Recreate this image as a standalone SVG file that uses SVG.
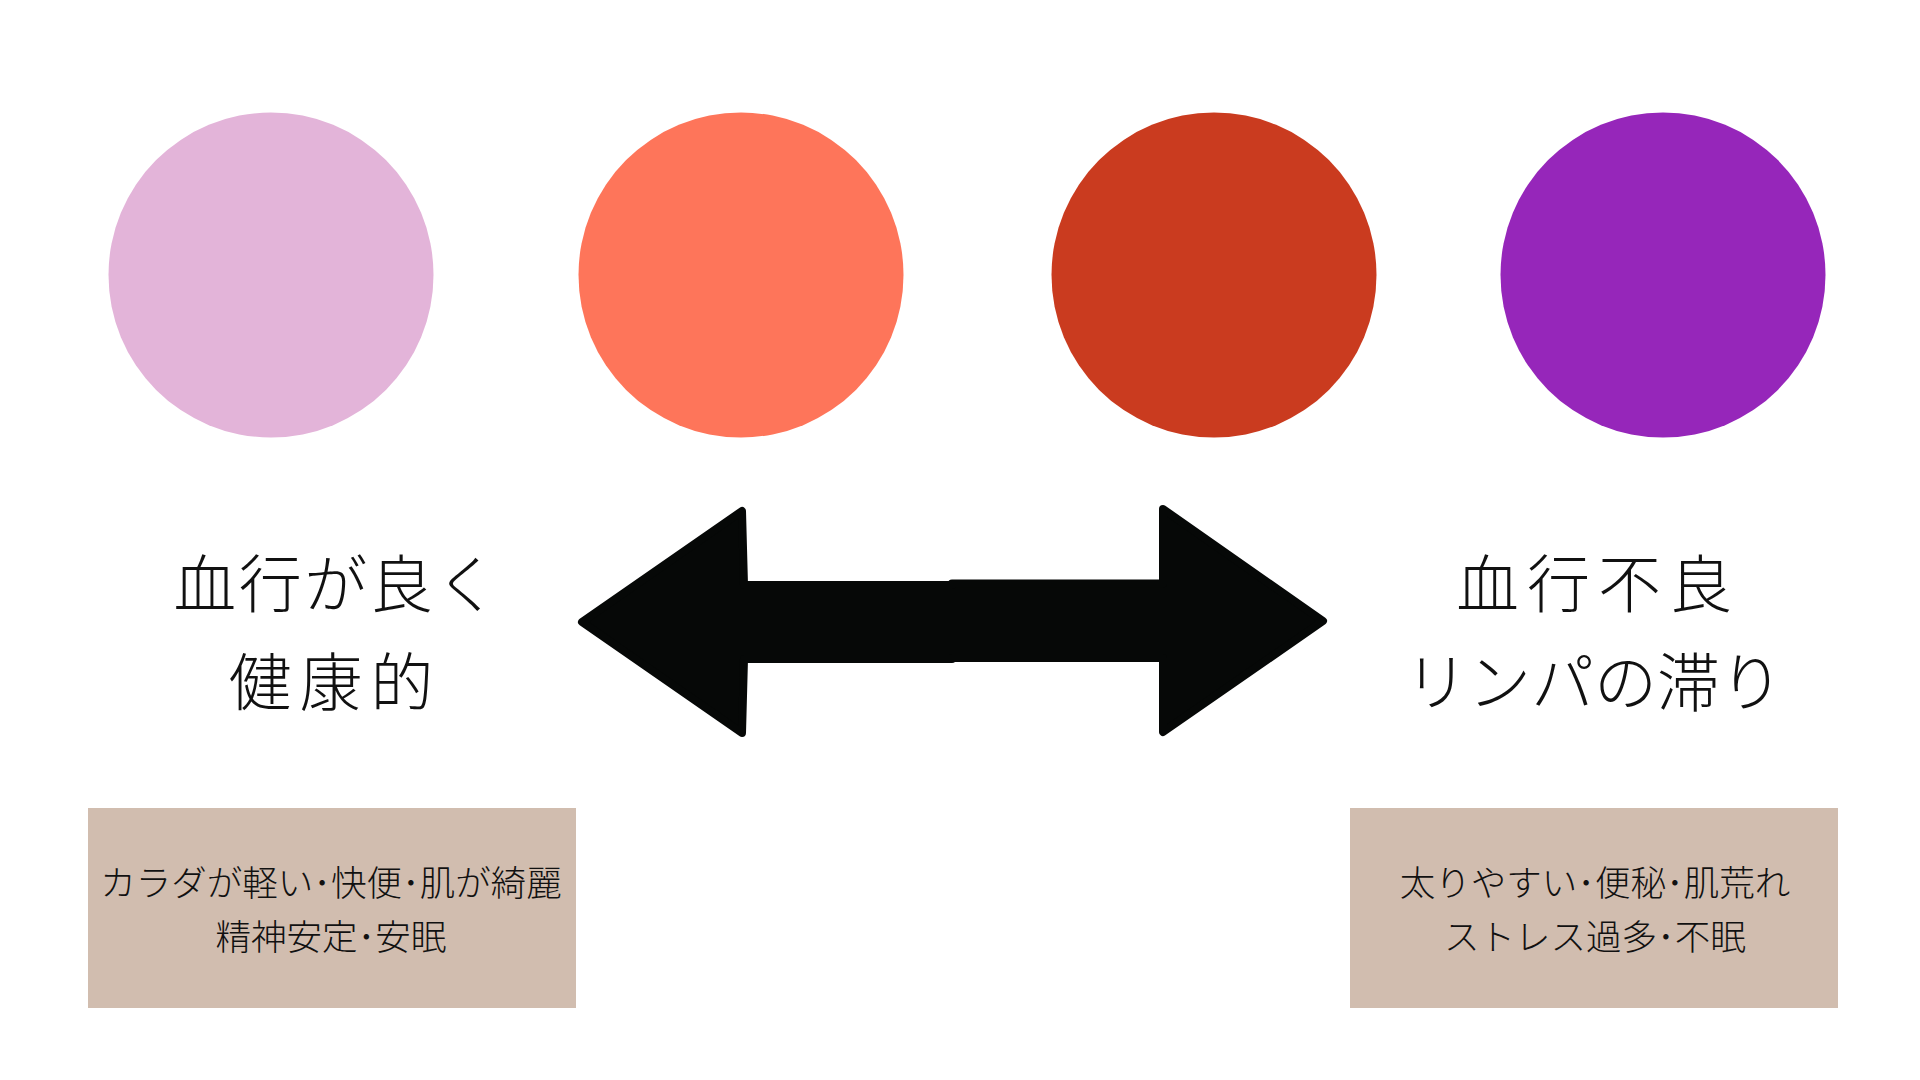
<svg xmlns="http://www.w3.org/2000/svg" width="1920" height="1080" viewBox="0 0 1920 1080">
  <style>
    .head { font-family: "Noto Sans CJK JP", "Noto Sans CJK SC", sans-serif; font-weight: 300; font-size: 63px; fill: #111111; text-anchor: middle; }
    .body { font-family: "Noto Sans CJK JP", "Noto Sans CJK SC", sans-serif; font-weight: 300; font-size: 35.5px; fill: #111111; text-anchor: middle; }
    .box { fill: #D1BDAF; }
  </style>
  <rect width="1920" height="1080" fill="#FFFFFF"/>
  <g id="circle-pink"><circle cx="271" cy="275" r="162.5" fill="#E3B4D9"/></g>
  <g id="circle-coral"><circle cx="741" cy="275" r="162.5" fill="#FE755A"/></g>
  <g id="circle-rust"><circle cx="1214" cy="275" r="162.5" fill="#CA3B1F"/></g>
  <g id="circle-purple"><circle cx="1663" cy="275" r="162.5" fill="#9626BA"/></g>

  <g id="connectors">
    <path d="M 582,622 L 742,511 L 744,585 L 952,585 L 952,583.5 L 1163,583.5 L 1163,509 L 1323,621 L 1163,732 L 1163,658 L 952,658 L 952,659 L 744,659 L 742,733 Z" fill="#060807" stroke="#060807" stroke-width="8" stroke-linejoin="round"/>
  </g>

  <g id="label-good">
    <text class="head" x="337" y="607" letter-spacing="2.5">血行が良く</text>
    <text class="head" x="335" y="705" letter-spacing="8">健康的</text>
  </g>
  <g id="label-bad">
    <text class="head" x="1598" y="607" letter-spacing="8">血行不良</text>
    <text class="head" x="1594" y="705">リンパの滞り</text>
  </g>

  <g id="box-good">
    <rect class="box" x="88" y="808" width="488" height="200"/>
    <text class="body" x="331" y="896" font-size="36">カラダが軽い･快便･肌が綺麗</text>
    <text class="body" x="331" y="950">精神安定･安眠</text>
  </g>
  <g id="box-bad">
    <rect class="box" x="1350" y="808" width="488" height="200"/>
    <text class="body" x="1595" y="896">太りやすい･便秘･肌荒れ</text>
    <text class="body" x="1595" y="950" font-size="34.5">ストレス過多･不眠</text>
  </g>
</svg>
